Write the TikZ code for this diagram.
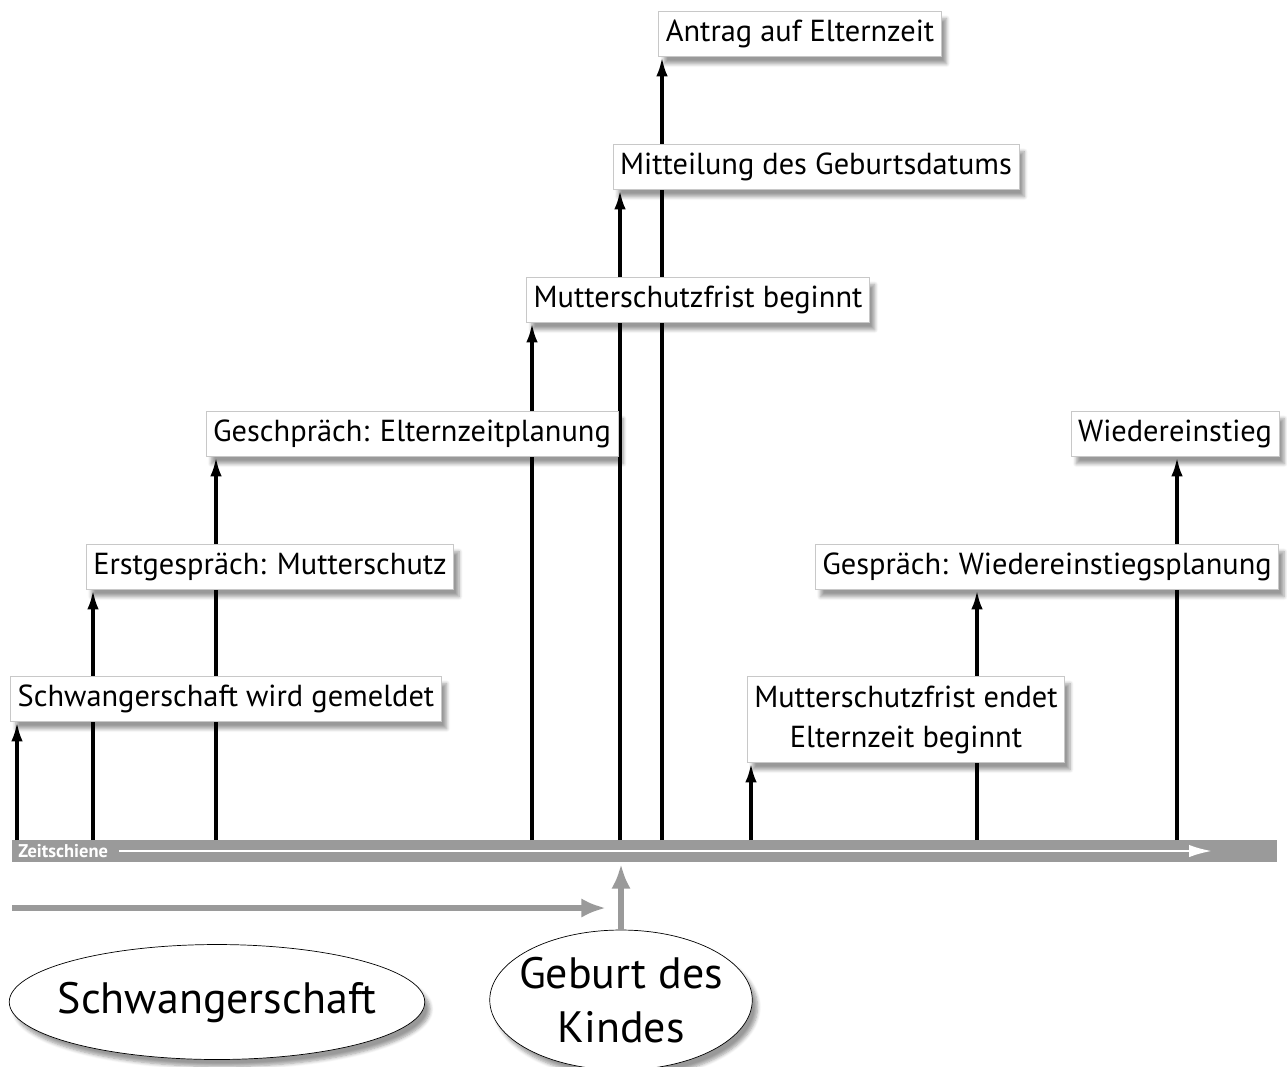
\documentclass[tikz,border=0pt]{standalone}
\usepackage{fontspec}
\setmainfont{PT Sans}
\usetikzlibrary{arrows.meta,shapes.geometric,shadows.blur}
\definecolor{railgray}{HTML}{9A9A9A}
\definecolor{boxline}{HTML}{C8C8C8}
\tikzset{
  event/.style={rectangle,draw=boxline,fill=white,inner xsep=4pt,minimum height=0.9cm,anchor=south,
    blur shadow={shadow xshift=3pt,shadow yshift=-4pt,shadow blur steps=6,shadow opacity=40},
    font=\fontsize{17.3}{23}\selectfont,align=center},
  phase/.style={ellipse,draw,fill=white,inner ysep=0pt,
    blur shadow={shadow xshift=3pt,shadow yshift=-4pt,shadow blur steps=6,shadow opacity=40},
    font=\fontsize{25}{31}\selectfont,align=center},
  up/.style={line width=2pt,-{Latex[length=11pt,width=6.5pt]}},
  grayarrow/.style={draw=railgray,line width=3.4pt,-{Latex[length=14pt,width=11pt]}}
}
\begin{document}
\begin{tikzpicture}[x=0.02cm,y=-0.02cm]
  \useasboundingbox (0,0) rectangle (1287,1066);
  % Zeitschiene
  \fill[railgray] (12,840) rectangle (1277,862);
  \node[font=\bfseries\fontsize{10.5}{12}\selectfont,text=white,anchor=west,inner sep=0pt] (rail) at (18,851) {Zeitschiene};
  \coordinate (railend) at (1212,851);
  \draw[white,line width=1.4pt,shorten <=6pt,-{Latex[length=13pt,width=7pt]}] (rail.east) -- (railend);

  % Zeitpunkte auf der Schiene
  \coordinate (t1) at (17,840);
  \coordinate (t2) at (93,840);
  \coordinate (t3) at (216,840);
  \coordinate (t4) at (532,840);
  \coordinate (t5) at (620,840);
  \coordinate (t6) at (662,840);
  \coordinate (t7) at (751,840);
  \coordinate (t8) at (977,840);
  \coordinate (t9) at (1177,840);

  % Unterkanten der Kaesten
  \coordinate (e1) at (800,57);
  \coordinate (e2) at (816,190);
  \coordinate (e3) at (698,323);
  \coordinate (e4) at (412,457);
  \coordinate (e5) at (1175,457);
  \coordinate (e6) at (270,590);
  \coordinate (e7) at (1047,590);
  \coordinate (e8) at (226,722);
  \coordinate (e9) at (906,763);

  \foreach \from/\to in {t1/e8,t2/e6,t3/e4,t4/e3,t5/e2,t6/e1,t7/e9,t8/e7,t9/e5}
    \draw[up] (\from) -- (\from |- \to);

  % Ereignisse
  \node[event] (b1) at (e1) {Antrag auf Elternzeit};
  \node[event] (b2) at (e2) {Mitteilung des Geburtsdatums};
  \node[event] (b3) at (e3) {Mutterschutzfrist beginnt};
  \node[event] (b4) at (e4) {Geschpräch: Elternzeitplanung};
  \node[event] (b5) at (e5) {Wiedereinstieg};
  \node[event] (b6) at (e6) {Erstgespräch: Mutterschutz};
  \node[event] (b7) at (e7) {Gespräch: Wiedereinstiegsplanung};
  \node[event] (b8) at (e8) {Schwangerschaft wird gemeldet};
  \node[event,minimum height=1.72cm] (b9) at (e9) {Mutterschutzfrist endet\\Elternzeit beginnt};

  % Phasen
  \node[phase,inner xsep=-7pt,minimum height=2.3cm] (schw) at (217,1002) {Schwangerschaft};
  \node[phase,inner xsep=-5.2pt,minimum height=2.8cm] (geb) at (621,1000) {Geburt des\\Kindes};
  \coordinate (pstart) at (12,908);
  \coordinate (pend) at (606,908);
  \coordinate (railbot) at (621,864);
  \draw[grayarrow] (pstart) -- (pend);
  \draw[grayarrow] (geb.north) -- (railbot);
\end{tikzpicture}
\end{document}
